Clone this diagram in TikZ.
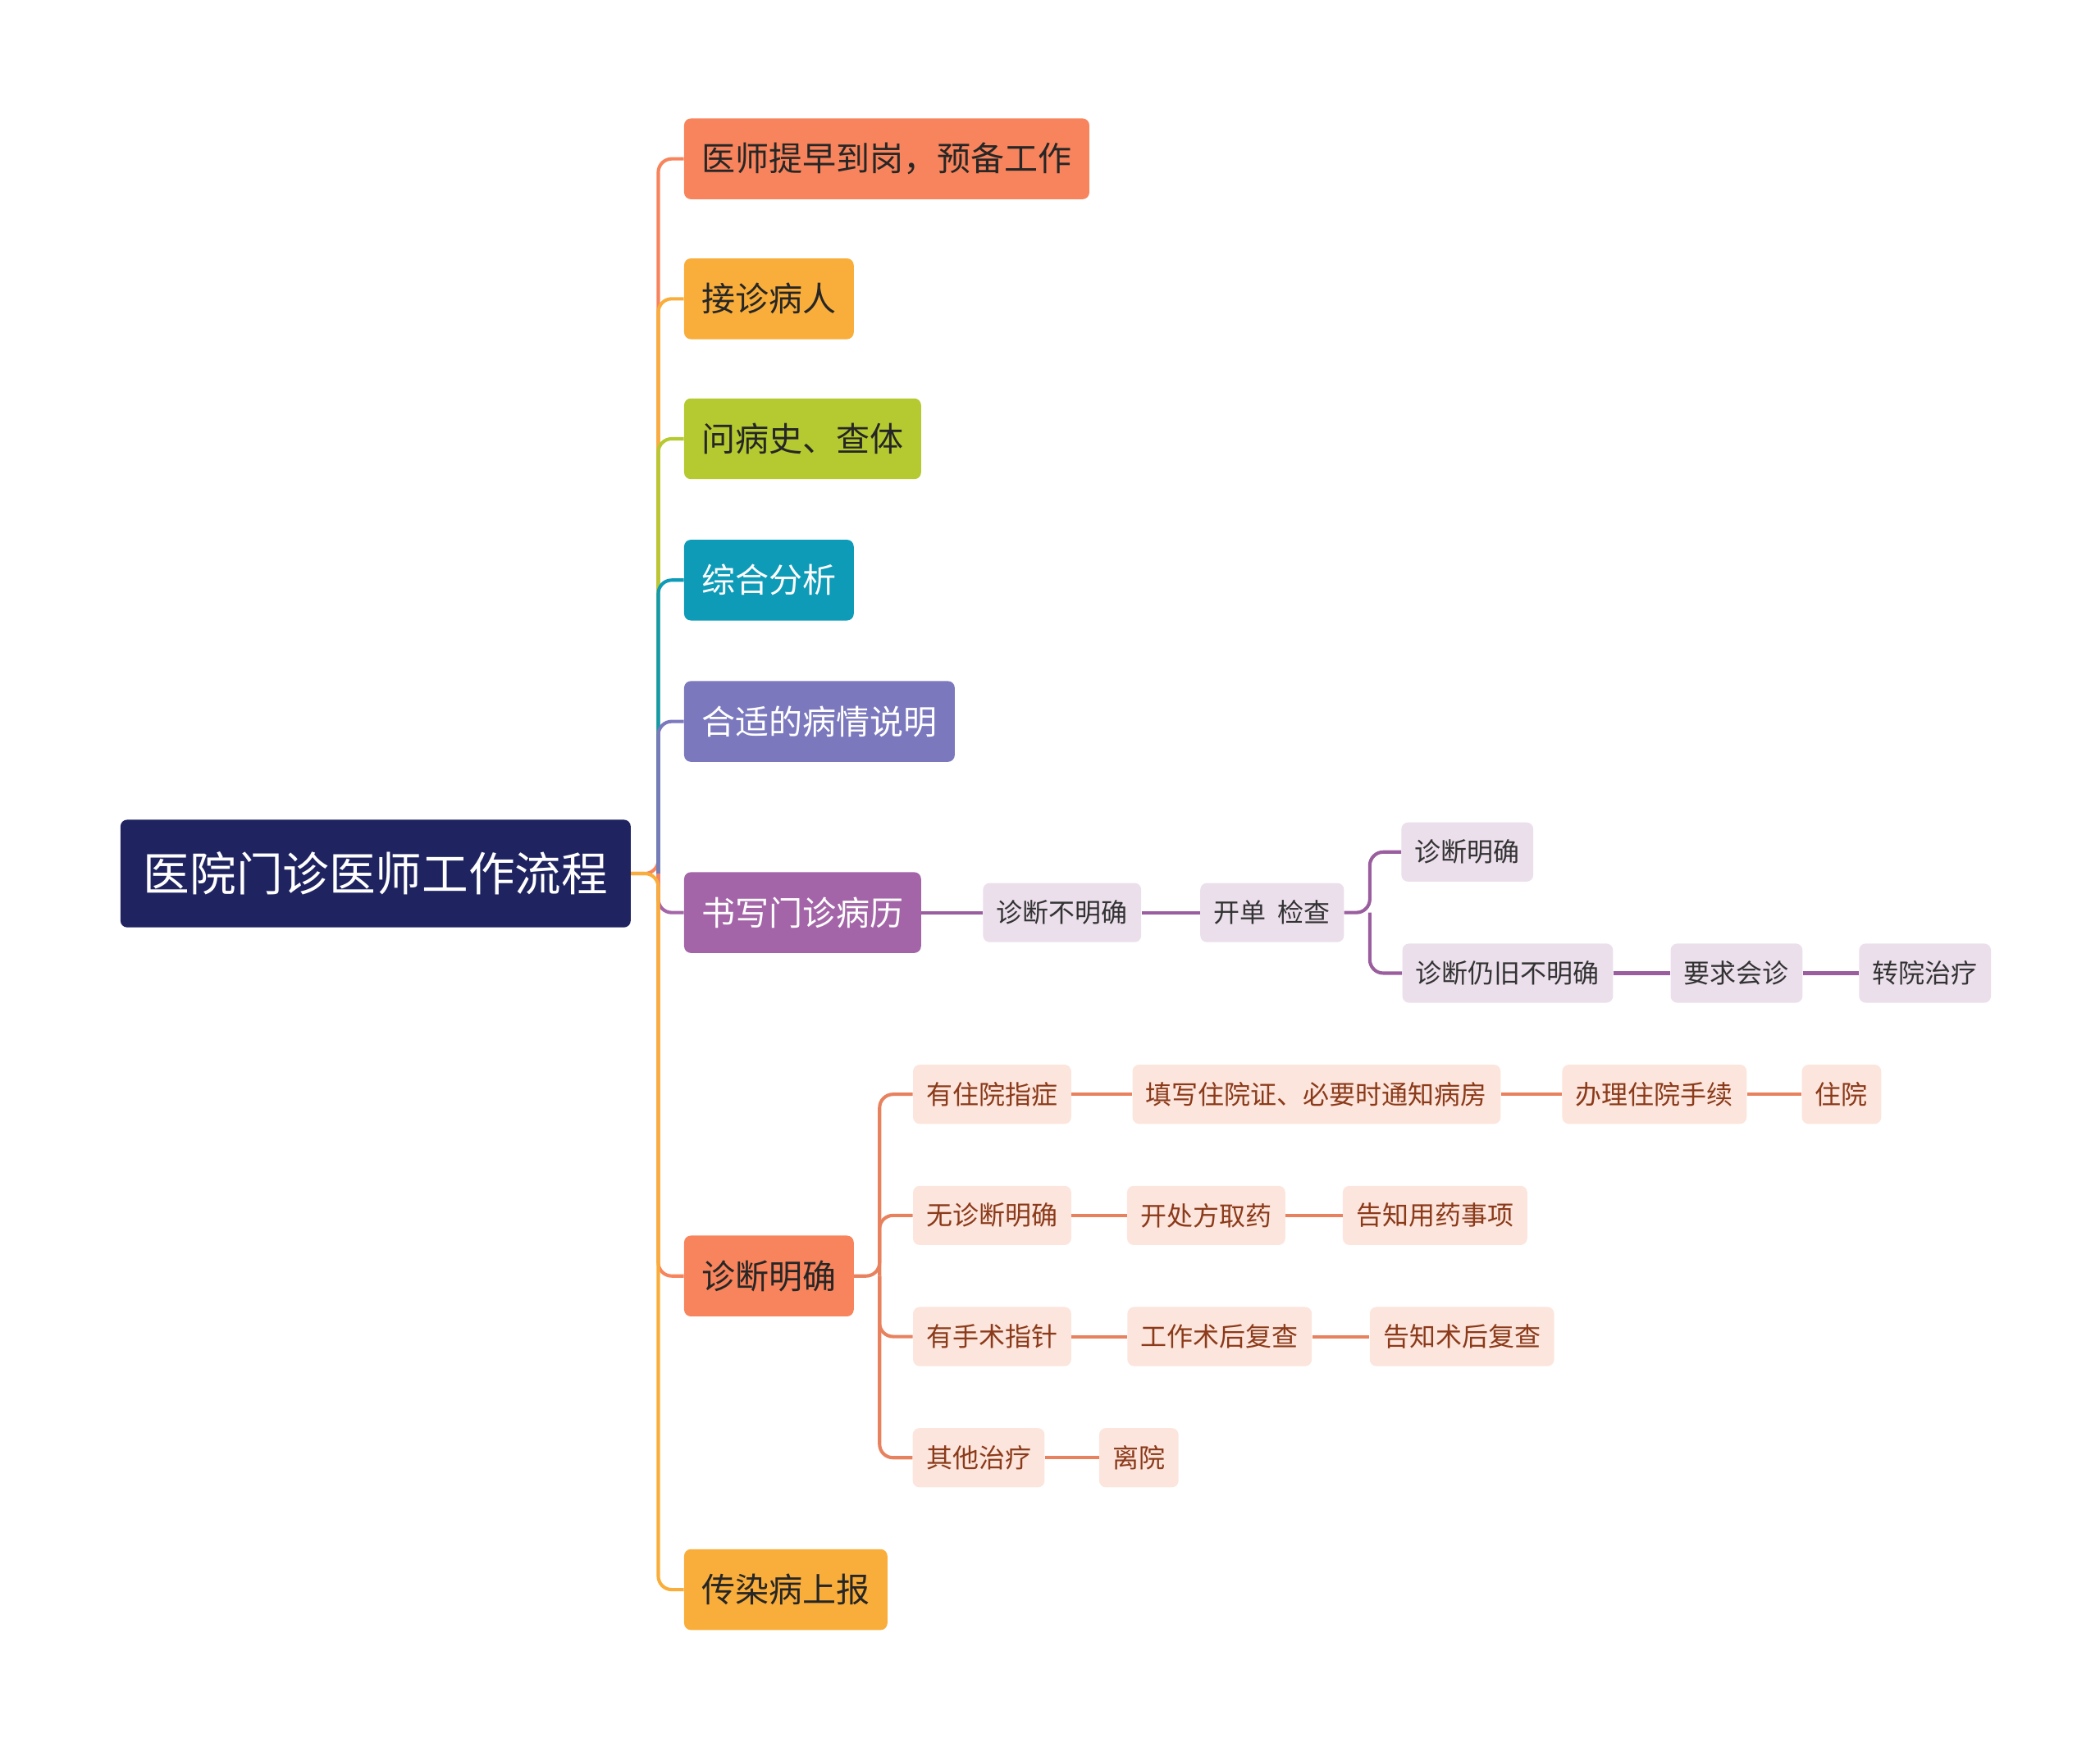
\documentclass[tikz,border=0pt]{standalone}
\usepackage{fontspec}
\setmainfont{Noto Sans CJK SC}
\usetikzlibrary{calc}
\definecolor{rootc}{HTML}{1F2461}
\definecolor{orgc}{HTML}{F7845C}
\definecolor{yelc}{HTML}{F9AE3B}
\definecolor{grnc}{HTML}{B5C930}
\definecolor{tealc}{HTML}{0E9BB8}
\definecolor{violc}{HTML}{7B78BE}
\definecolor{purpc}{HTML}{A365A8}
\definecolor{purpl}{HTML}{EBDFEC}
\definecolor{purpline}{HTML}{9A5E9E}
\definecolor{orgl}{HTML}{FCE5DC}
\definecolor{orgline}{HTML}{E8825E}
\definecolor{orgtext}{HTML}{8B3A1A}
\tikzset{
  rootbox/.style={fill=rootc,text=white,rounded corners=5pt,minimum height=80pt,inner xsep=17pt,font=\fontsize{34.5}{40}\selectfont},
  topic/.style={fill=#1,rounded corners=5pt,minimum height=60pt,inner xsep=13pt,anchor=west,font=\fontsize{25}{28}\selectfont},
  sub/.style={fill=purpl,text=black!80,rounded corners=5pt,minimum height=44pt,inner xsep=10pt,font=\fontsize{19.5}{22}\selectfont},
  osub/.style={fill=orgl,text=orgtext,rounded corners=5pt,minimum height=44pt,inner xsep=10pt,font=\fontsize{19.5}{22}\selectfont},
  link/.style={line width=2.5pt,rounded corners=10pt}
}
\begin{document}
\begin{tikzpicture}[x=1pt,y=-1pt]
\useasboundingbox (0,0) rectangle (1560,1291);
% root
\node[rootbox] (root) at (279,649) {医院门诊医师工作流程};
\coordinate (fork) at (489,649);
% first level
\node[topic=orgc,text=black!85] (t1) at (508,118) {医师提早到岗，预备工作};
\node[topic=yelc,text=black!85] (t2) at (508,222) {接诊病人};
\node[topic=grnc,text=black!85] (t3) at (508,326) {问病史、查体};
\node[topic=tealc,text=white] (t4) at (508,431) {综合分析};
\node[topic=violc,text=white] (t5) at (508,536) {合适的病情说明};
\node[topic=purpc,text=white] (t6) at (508,678) {书写门诊病历};
\node[topic=orgc,text=black!85] (t7) at (508,948) {诊断明确};
\node[topic=yelc,text=black!85] (t8) at (508,1181) {传染病上报};
\draw[link,orgc] (root.east) -- (fork) |- (t1.west);
\draw[link,yelc] (fork) |- (t2.west);
\draw[link,grnc] (fork) |- (t3.west);
\draw[link,tealc] (fork) |- (t4.west);
\draw[link,violc] (fork) |- (t5.west);
\draw[link,purpc] (fork) |- (t6.west);
\draw[link,orgc] (fork) |- (t7.west);
\draw[link,yelc] (root.east) -- (fork) |- (t8.west);
% written record branch
\node[sub] (a1) at (789,678) {诊断不明确};
\node[sub] (a2) at (945,678) {开单\ \ 检查};
\node[sub] (a3) at (1090,633) {诊断明确};
\node[sub] (a4) at (1120,723) {诊断仍旧不明确};
\node[sub] (a5) at (1290,723) {要求会诊};
\node[sub] (a6) at (1430,723) {转院治疗};
\draw[link,purpline] (t6.east) -- (a1.west);
\draw[link,purpline] (a1.east) -- (a2.west);
\draw[link,purpline] (a2.east) -- ++(19,0) coordinate (fa) |- (a3.west);
\draw[link,purpline] (fa) |- (a4.west);
\draw[link,purpline] (a4.east) -- (a5.west);
\draw[link,purpline] (a5.east) -- (a6.west);
% diagnosis clear branch
\node[osub] (b1) at (737,813) {有住院指症};
\node[osub] (b2) at (978,813) {填写住院证、必要时通知病房};
\node[osub] (b3) at (1229,813) {办理住院手续};
\node[osub] (b4) at (1368,813) {住院};
\node[osub] (c1) at (737,903) {无诊断明确};
\node[osub] (c2) at (896,903) {开处方取药};
\node[osub] (c3) at (1066,903) {告知用药事项};
\node[osub] (d1) at (737,993) {有手术指针};
\node[osub] (d2) at (906,993) {工作术后复查};
\node[osub] (d3) at (1086,993) {告知术后复查};
\node[osub] (e1) at (727,1083) {其他治疗};
\node[osub] (e2) at (846,1083) {离院};
\draw[link,orgline] (t7.east) -- ++(19,0) coordinate (fb) |- (b1.west);
\draw[link,orgline] (fb) |- (c1.west);
\draw[link,orgline] (fb) |- (d1.west);
\draw[link,orgline] (fb) |- (e1.west);
\draw[link,orgline] (b1) -- (b2) -- (b3) -- (b4);
\draw[link,orgline] (c1) -- (c2) -- (c3);
\draw[link,orgline] (d1) -- (d2) -- (d3);
\draw[link,orgline] (e1) -- (e2);
\end{tikzpicture}
\end{document}
